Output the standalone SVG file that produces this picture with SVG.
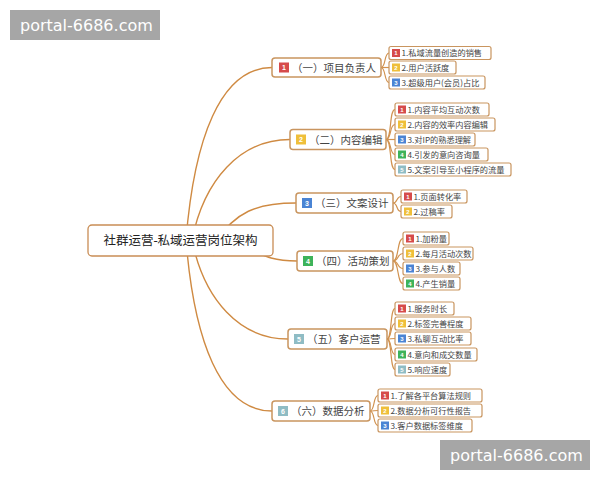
<svg xmlns="http://www.w3.org/2000/svg" width="600" height="480" viewBox="0 0 600 480">
<style>
.bg{fill:#ffffff}
.wm rect{fill:#a6a6a6}
.wm text{fill:#ffffff;font-family:"DejaVu Sans","Liberation Sans",sans-serif;font-size:16px}
.root rect{fill:#fff;stroke:#c98d55;stroke-width:1.3}
.root text{font-family:"Liberation Serif","Noto Sans CJK SC",serif;font-size:12.5px;fill:#222}
.l1 rect.b{fill:#fff;stroke:#c9955f;stroke-width:1.5}
.l1 text{font-family:"Noto Sans CJK SC",sans-serif;font-size:10.5px;fill:#444}
.l2 rect.b{fill:#fff;stroke:#c9955f;stroke-width:1.2}
.l2 text{font-family:"Noto Sans CJK SC",sans-serif;font-size:8.2px;fill:#444}
text.n{font-family:"Liberation Sans",sans-serif;fill:#fff;font-weight:bold;text-anchor:middle}
.l1 text.n{font-size:7px}
.l2 text.n{font-size:6px}
.c1{fill:#d64b4b}.c2{fill:#efbf3a}.c3{fill:#4a84d4}.c4{fill:#3db35a}.c5{fill:#8fbcc4}
#connectors path{fill:none;stroke:#d1924f;stroke-width:1.2}
#connectors path.m{stroke:#cf8a42;stroke-width:1.4}
</style>
<rect class="bg" x="0" y="0" width="600" height="480"/>
<g id="connectors">
<path class="m" d="M186 240 C194 140 220 67.5 272 67.5"/>
<path class="m" d="M192 240 C204 180 240 139.5 290 139.5"/>
<path class="m" d="M215 242 C236 212 256 203 296 203"/>
<path class="m" d="M240 246 C268 258 276 261 297 261"/>
<path class="m" d="M192 240 C204 300 240 339 288 339"/>
<path class="m" d="M186 240 C194 340 220 411 272 411"/>
<path d="M381 67.5 C386 67.5 384 53 389 53"/>
<path d="M381 67.5 C386 67.5 384 67.5 389 67.5"/>
<path d="M381 67.5 C386 67.5 384 82.5 389 82.5"/>
<path d="M386 139.5 C392 139.5 389 109.5 395 109.5"/>
<path d="M386 139.5 C392 139.5 389 124.5 395 124.5"/>
<path d="M386 139.5 C392 139.5 389 139.5 395 139.5"/>
<path d="M386 139.5 C392 139.5 389 154.5 395 154.5"/>
<path d="M386 139.5 C392 139.5 389 169.5 395 169.5"/>
<path d="M393 203 C398 203 396 196.5 401 196.5"/>
<path d="M393 203 C398 203 396 211.5 401 211.5"/>
<path d="M393 261 C399 261 397 238.5 403 238.5"/>
<path d="M393 261 C399 261 397 253.5 403 253.5"/>
<path d="M393 261 C399 261 397 268.5 403 268.5"/>
<path d="M393 261 C399 261 397 283.5 403 283.5"/>
<path d="M387 339 C392 339 390 308.5 395 308.5"/>
<path d="M387 339 C392 339 390 323.5 395 323.5"/>
<path d="M387 339 C392 339 390 338.5 395 338.5"/>
<path d="M387 339 C392 339 390 354.5 395 354.5"/>
<path d="M387 339 C392 339 390 369.5 395 369.5"/>
<path d="M370 411 C375 411 373 395.5 378 395.5"/>
<path d="M370 411 C375 411 373 410.5 378 410.5"/>
<path d="M370 411 C375 411 373 425.5 378 425.5"/>
</g>
<g id="root" class="root">
<rect x="88" y="225" width="185" height="31" rx="4"/>
<text x="180.5" y="245" text-anchor="middle">社群运营-私域运营岗位架构</text>
</g>
<g id="n1" class="l1"><rect class="b" x="272" y="58" width="109" height="19" rx="3"/><rect class="c1" x="279" y="62.5" width="10" height="10"/><text class="n" x="284" y="70.2">1</text><text x="292" y="71.5">（一）项目负责人</text></g>
<g id="n2" class="l1"><rect class="b" x="290" y="129.5" width="96" height="20" rx="3"/><rect class="c2" x="296" y="134.5" width="10" height="10"/><text class="n" x="301" y="142.2">2</text><text x="309" y="143.5">（二）内容编辑</text></g>
<g id="n3" class="l1"><rect class="b" x="296" y="193" width="97" height="20" rx="3"/><rect class="c3" x="302" y="198" width="10" height="10"/><text class="n" x="307" y="205.7">3</text><text x="315" y="207">（三）文案设计</text></g>
<g id="n4" class="l1"><rect class="b" x="297" y="251" width="96" height="20" rx="3"/><rect class="c4" x="303" y="256" width="10" height="10"/><text class="n" x="308" y="263.7">4</text><text x="316" y="265">（四）活动策划</text></g>
<g id="n5" class="l1"><rect class="b" x="288" y="329" width="99" height="20" rx="3"/><rect class="c5" x="294" y="334" width="10" height="10"/><text class="n" x="299" y="341.7">5</text><text x="307" y="343">（五）客户运营</text></g>
<g id="n6" class="l1"><rect class="b" x="272" y="401" width="98" height="20" rx="3"/><rect class="c5" x="278" y="406" width="10" height="10"/><text class="n" x="283" y="413.7">6</text><text x="291" y="415">（六）数据分析</text></g>

<g id="n1a" class="l2"><rect class="b" x="389" y="46.5" width="102" height="13" rx="2"/><rect class="c1" x="392" y="49" width="8" height="8"/><text class="n" x="396" y="55.2">1</text><text x="401.5" y="56.2">1.私域流量创造的销售</text></g>
<g id="n1b" class="l2"><rect class="b" x="389" y="61" width="67" height="13" rx="2"/><rect class="c2" x="392" y="63.5" width="8" height="8"/><text class="n" x="396" y="69.7">2</text><text x="401.5" y="70.7">2.用户活跃度</text></g>
<g id="n1c" class="l2"><rect class="b" x="389" y="76" width="96" height="13" rx="2"/><rect class="c3" x="392" y="78.5" width="8" height="8"/><text class="n" x="396" y="84.7">3</text><text x="401.5" y="85.7">3.超级用户(会员)占比</text></g>

<g id="n2a" class="l2"><rect class="b" x="395" y="103" width="94" height="13" rx="2"/><rect class="c1" x="398" y="105.5" width="8" height="8"/><text class="n" x="402" y="111.7">1</text><text x="407.5" y="112.7">1.内容平均互动次数</text></g>
<g id="n2b" class="l2"><rect class="b" x="395" y="118" width="100" height="13" rx="2"/><rect class="c2" x="398" y="120.5" width="8" height="8"/><text class="n" x="402" y="126.7">2</text><text x="407.5" y="127.7">2.内容的效率内容编辑</text></g>
<g id="n2c" class="l2"><rect class="b" x="395" y="133" width="80" height="13" rx="2"/><rect class="c3" x="398" y="135.5" width="8" height="8"/><text class="n" x="402" y="141.7">3</text><text x="407.5" y="142.7">3.对IP的熟悉理解</text></g>
<g id="n2d" class="l2"><rect class="b" x="395" y="148" width="93" height="13" rx="2"/><rect class="c4" x="398" y="150.5" width="8" height="8"/><text class="n" x="402" y="156.7">4</text><text x="407.5" y="157.7">4.引发的意向咨询量</text></g>
<g id="n2e" class="l2"><rect class="b" x="395" y="163" width="116" height="13" rx="2"/><rect class="c5" x="398" y="165.5" width="8" height="8"/><text class="n" x="402" y="171.7">5</text><text x="407.5" y="172.7">5.文案引导至小程序的流量</text></g>

<g id="n3a" class="l2"><rect class="b" x="401" y="190" width="66" height="13" rx="2"/><rect class="c1" x="404" y="192.5" width="8" height="8"/><text class="n" x="408" y="198.7">1</text><text x="413.5" y="199.7">1.页面转化率</text></g>
<g id="n3b" class="l2"><rect class="b" x="401" y="205" width="51" height="13" rx="2"/><rect class="c2" x="404" y="207.5" width="8" height="8"/><text class="n" x="408" y="213.7">2</text><text x="413.5" y="214.7">2.过稿率</text></g>

<g id="n4a" class="l2"><rect class="b" x="403" y="232" width="46" height="13" rx="2"/><rect class="c1" x="406" y="234.5" width="8" height="8"/><text class="n" x="410" y="240.7">1</text><text x="415.5" y="241.7">1.加粉量</text></g>
<g id="n4b" class="l2"><rect class="b" x="403" y="247" width="70" height="13" rx="2"/><rect class="c2" x="406" y="249.5" width="8" height="8"/><text class="n" x="410" y="255.7">2</text><text x="415.5" y="256.7">2.每月活动次数</text></g>
<g id="n4c" class="l2"><rect class="b" x="403" y="262" width="57" height="13" rx="2"/><rect class="c3" x="406" y="264.5" width="8" height="8"/><text class="n" x="410" y="270.7">3</text><text x="415.5" y="271.7">3.参与人数</text></g>
<g id="n4d" class="l2"><rect class="b" x="403" y="277" width="57" height="13" rx="2"/><rect class="c4" x="406" y="279.5" width="8" height="8"/><text class="n" x="410" y="285.7">4</text><text x="415.5" y="286.7">4.产生销量</text></g>

<g id="n5a" class="l2"><rect class="b" x="395" y="302" width="59" height="13" rx="2"/><rect class="c1" x="398" y="304.5" width="8" height="8"/><text class="n" x="402" y="310.7">1</text><text x="407.5" y="311.7">1.服务时长</text></g>
<g id="n5b" class="l2"><rect class="b" x="395" y="317" width="76" height="13" rx="2"/><rect class="c2" x="398" y="319.5" width="8" height="8"/><text class="n" x="402" y="325.7">2</text><text x="407.5" y="326.7">2.标签完善程度</text></g>
<g id="n5c" class="l2"><rect class="b" x="395" y="332" width="76" height="13" rx="2"/><rect class="c3" x="398" y="334.5" width="8" height="8"/><text class="n" x="402" y="340.7">3</text><text x="407.5" y="341.7">3.私聊互动比率</text></g>
<g id="n5d" class="l2"><rect class="b" x="395" y="348" width="82" height="13" rx="2"/><rect class="c4" x="398" y="350.5" width="8" height="8"/><text class="n" x="402" y="356.7">4</text><text x="407.5" y="357.7">4.意向和成交数量</text></g>
<g id="n5e" class="l2"><rect class="b" x="395" y="363" width="55" height="13" rx="2"/><rect class="c5" x="398" y="365.5" width="8" height="8"/><text class="n" x="402" y="371.7">5</text><text x="407.5" y="372.7">5.响应速度</text></g>

<g id="n6a" class="l2"><rect class="b" x="378" y="389" width="104" height="13" rx="2"/><rect class="c1" x="381" y="391.5" width="8" height="8"/><text class="n" x="385" y="397.7">1</text><text x="390.5" y="398.7">1.了解各平台算法规则</text></g>
<g id="n6b" class="l2"><rect class="b" x="378" y="404" width="104" height="13" rx="2"/><rect class="c2" x="381" y="406.5" width="8" height="8"/><text class="n" x="385" y="412.7">2</text><text x="390.5" y="413.7">2.数据分析可行性报告</text></g>
<g id="n6c" class="l2"><rect class="b" x="378" y="419" width="94" height="13" rx="2"/><rect class="c3" x="381" y="421.5" width="8" height="8"/><text class="n" x="385" y="427.7">3</text><text x="390.5" y="428.7">3.客户数据标签维度</text></g>

<g id="wm1" class="wm"><rect x="10" y="10" width="150" height="30"/><text x="20" y="31">portal-6686.com</text></g>
<g id="wm2" class="wm"><rect x="440" y="440" width="150" height="30"/><text x="450" y="461">portal-6686.com</text></g>
</svg>
